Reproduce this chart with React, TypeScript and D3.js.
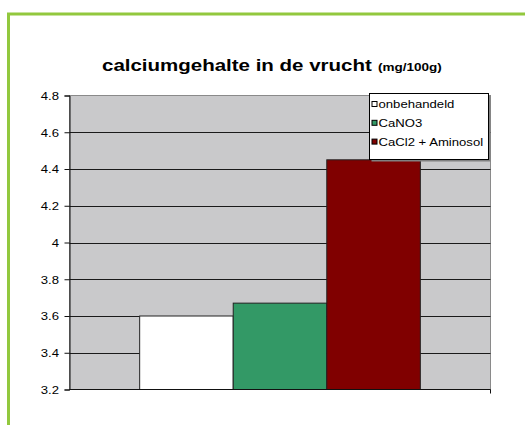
import React, { useEffect, useRef } from 'react';
import * as d3 from 'd3';

const series = ['onbehandeld', 'CaNO3', 'CaCl2 + Aminosol'];
const values = [3.6, 3.67, 4.45];
const colors = ['#ffffff', '#339966', '#800000'];
const yTicks = [3.2, 3.4, 3.6, 3.8, 4, 4.2, 4.4, 4.6, 4.8];

const FONT = 'Arial, "Liberation Sans", sans-serif';
// the original picture is wider than tall, glyphs look stretched
const SX = 1.25;

// move x/y into a transform and widen the glyphs
const stretch = (sel: any) => {
  sel.each(function (this: SVGTextElement) {
    const t = d3.select(this);
    const x = +(t.attr('x') || 0);
    const y = +(t.attr('y') || 0);
    t.attr('x', 0).attr('y', 0)
      .attr('transform', `translate(${x},${y}) scale(${SX},1)`);
  });
};

const App = () => {
  const svgRef = useRef<SVGSVGElement | null>(null);

  useEffect(() => {
    const svg = d3.select(svgRef.current);
    svg.selectAll('*').remove();

    const W = 525, H = 425;
    const plot = { left: 69.5, top: 95.5, right: 490.5, bottom: 389.5 };

    svg.append('rect').attr('width', W).attr('height', H).attr('fill', '#fff');
    svg.append('path')
      .attr('d', `M8.5,${H + 5} L8.5,14 L${W + 5},14`)
      .attr('fill', 'none')
      .attr('stroke', '#92c83e')
      .attr('stroke-width', 3);

    // title
    const t1 = svg.append('text')
      .attr('x', 102).attr('y', 71)
      .style('font-family', FONT).style('font-weight', 'bold').style('font-size', '16.4px')
      .text('calciumgehalte in de vrucht');
    stretch(t1);
    const t2 = svg.append('text')
      .attr('x', 378).attr('y', 71)
      .style('font-family', FONT).style('font-weight', 'bold').style('font-size', '10.8px')
      .text('(mg/100g)');
    stretch(t2);

    const y = d3.scaleLinear().domain([3.2, 4.8]).range([plot.bottom, plot.top]);
    const x = d3.scaleBand<string>()
      .domain(['cat'])
      .range([plot.left, plot.right]);
    // excel gap width 150%
    const groupW = x.bandwidth() / 4.5 * 3;
    const xs = d3.scaleBand<string>()
      .domain(series)
      .range([x('cat')! + (x.bandwidth() - groupW) / 2, x('cat')! + (x.bandwidth() + groupW) / 2]);

    svg.append('rect')
      .attr('x', plot.left).attr('y', plot.top)
      .attr('width', plot.right - plot.left).attr('height', plot.bottom - plot.top)
      .attr('fill', '#c9c9cb')
      .attr('stroke', '#8a8a8a');

    svg.append('g')
      .selectAll('line')
      .data(yTicks.filter(t => t > 3.2 && t < 4.8))
      .join('line')
      .attr('x1', plot.left).attr('x2', plot.right)
      .attr('y1', d => Math.round(y(d)) + 0.5).attr('y2', d => Math.round(y(d)) + 0.5)
      .attr('stroke', '#1a1a1a');

    svg.append('g')
      .selectAll('rect')
      .data(values)
      .join('rect')
      .attr('x', (d, i) => xs(series[i])!)
      .attr('y', d => y(d))
      .attr('width', xs.bandwidth())
      .attr('height', d => plot.bottom - y(d))
      .attr('fill', (d, i) => colors[i])
      .attr('stroke', '#222');

    const yAxis = svg.append('g')
      .attr('transform', `translate(${plot.left},0)`)
      .call(d3.axisLeft(y).tickValues(yTicks).tickSize(5).tickPadding(5).tickFormat(d => String(d)));
    yAxis.select('.domain').attr('stroke', '#111');
    yAxis.selectAll('.tick line').attr('stroke', '#111');
    yAxis.selectAll('.tick text')
      .style('font-family', FONT)
      .style('font-size', '10.5px')
      .attr('fill', '#000')
      .attr('dy', null)
      .attr('y', 3.8)
      .attr('x', -10.5);
    stretch(yAxis.selectAll('.tick text'));

    svg.append('line')
      .attr('x1', plot.left).attr('x2', plot.right)
      .attr('y1', plot.bottom).attr('y2', plot.bottom)
      .attr('stroke', '#111');
    svg.append('line')
      .attr('x1', plot.right).attr('x2', plot.right)
      .attr('y1', plot.bottom).attr('y2', plot.bottom + 4)
      .attr('stroke', '#111');

    // legend
    const lg = svg.append('g').attr('transform', 'translate(369.5,93.5)');
    lg.append('rect')
      .attr('x', 2).attr('y', 2).attr('width', 119).attr('height', 66)
      .attr('fill', '#808080');
    lg.append('rect')
      .attr('width', 119).attr('height', 66)
      .attr('fill', '#fff').attr('stroke', '#000');
    const rows = lg.selectAll('g.row')
      .data(series)
      .join('g')
      .attr('class', 'row')
      .attr('transform', (d, i) => `translate(0,${10.5 + i * 18.8})`);
    rows.append('rect')
      .attr('x', 2.5).attr('y', -2.5).attr('width', 5).attr('height', 5)
      .attr('fill', (d, i) => colors[i])
      .attr('stroke', '#000');
    const lt = rows.append('text')
      .attr('x', 9).attr('y', 4)
      .style('font-family', FONT)
      .style('font-size', '10.5px')
      .attr('fill', '#000')
      .text(d => d);
    stretch(lt);
  }, []);

  return (
    <svg ref={svgRef} width={525} height={425}
      style={{ position: 'absolute', left: 0, top: 0, display: 'block' }} />
  );
};

export default App;
